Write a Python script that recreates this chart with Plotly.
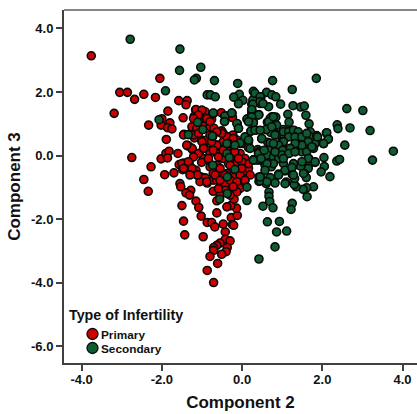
import plotly.graph_objects as go

x_ticks = [-4, -2, 0, 2, 4]
x_tick_labels = ["-4.0", "-2.0", "0.0", "2.0", "4.0"]
y_ticks = [-6, -4, -2, 0, 2, 4]
y_tick_labels = ["-6.0", "-4.0", "-2.0", "0.0", "2.0", "4.0"]
series_names = ["Primary", "Secondary"]

primary_x = [-3.76,-2.05,-3.05,-2.86,-2.45,-2.68,-2.16,-1.58,-1.37,-1.40,-3.19,-1.85,-1.47,-2.33,-2.0,-1.8,-2.02,-1.86,-1.75,-1.89,-1.45,
 -2.75,-2.27,-2.45,-2.34,-2.02,-1.9,-1.82,-1.86,-1.6,-1.93,-1.70,-1.57,-1.45,-1.32,-1.48,-1.26,-1.29,-1.15,-1.12,-1.02,-0.92,-1.05,-0.87,-1.55,-1.53,-1.28,-1.40,-1.31,-1.15,-1.5,-1.08,-1.46,-1.02,-1.43,-0.97,-0.87,-0.76,-0.68,-0.63,-0.47,-0.27,-0.12,-0.24,-0.21,-0.42,-0.42,-0.30,-0.55,-0.63,-0.71,-0.71,-0.37,-0.40,-0.51,-0.80,-0.61,-0.87,-0.71,-0.14,-0.28,-0.20,-0.38,-0.63,-0.72,-0.55,
 -1.16,-1.01,-0.92,-1.19,-1.05,-0.88,-0.76,-0.52,-0.24,-1.07,-1.24,-1.12,-0.96,-0.80,-0.70,-0.51,-1.19,-1.26,-1.01,-0.88,-0.63,-0.37,-0.23,-0.13,-0.47,-1.36,-1.26,-0.95,-0.80,-0.26,0.03,
 -1.34,-1.24,-1.19,-1.07,-0.96,-1.01,-0.67,-0.47,-0.19,-0.02,-0.26,-0.05,-0.18,-0.63,-0.55,-0.26,-0.01,-0.42,-0.72,0.07,-0.63,-0.80,-0.34,-0.96,-0.84,-0.22,-0.47,-0.38,-0.05,0.07,-0.13,-0.55,-0.38,0.07,-0.63,-0.05,-0.13,-0.42,-0.55,-0.30,0.16,-0.72,-0.80,-0.84,-0.55,-0.30,0.16,0.20,
 -1.15,-1.0,-1.09,-1.21,-0.88,-0.80,-1.25,-1.13,-1.46,-1.21,-1.09,-0.88,-1.0,-0.63,-0.76,-0.38,-0.22,-0.51,-1.25,-1.38,-1.09,-1.21,-1.5,-1.34,-1.46,-1.25,-1.11,-0.88,-1.30,-0.84,-0.59,-0.72,-0.47,-0.18,-0.01,-0.09,-0.30,-0.55,-0.67,-0.55,-0.30,-0.42,-0.05,0.07,-0.13,-0.22,-0.59,-0.01,-0.80,-0.63,-0.96]
primary_y = [3.14,2.43,1.99,1.99,1.93,1.77,1.83,1.73,1.73,1.60,1.33,1.40,1.19,0.96,1.16,1.03,0.96,0.88,0.84,0.51,0.67,
 -0.06,-0.35,-0.75,-1.12,-0.10,0.07,0.14,-0.07,0.07,-0.60,-0.54,-0.28,-0.23,-0.22,-0.44,-0.40,-0.56,-0.46,-0.61,-0.67,-0.70,-0.82,-0.86,-0.88,-0.98,-1.09,-1.17,-1.24,-1.43,-1.57,-1.63,-2.06,-1.90,-2.49,-2.55,-2.10,-2.10,-2.24,-1.80,-2.15,-1.95,-1.88,-2.17,-2.19,-2.40,-2.63,-2.68,-2.75,-2.82,-2.89,-2.98,-2.89,-3.02,-3.10,-3.17,-3.39,-3.61,-3.99,-1.65,-1.57,-1.37,-1.61,-1.42,-1.12,-1.03,
 1.44,1.43,1.38,1.24,1.20,1.12,1.14,1.35,1.20,1.07,0.89,0.86,0.93,0.91,0.86,0.78,0.56,0.70,0.49,0.47,0.33,0.59,0.65,0.49,0.44,0.31,0.23,0.28,0.17,0.28,0.38,
 0.31,0.20,0.05,0.07,-0.09,-0.21,0.17,-0.09,0.09,-0.21,-0.40,-0.56,-0.67,-0.54,-0.75,-0.93,-0.88,-0.88,-0.77,-0.51,-0.30,-0.35,-0.25,0.23,0.49,0.54,0.70,0.17,0.07,-0.09,-0.25,-0.51,-0.56,-0.77,-0.77,-1.03,-1.14,-1.09,-1.24,-1.24,-0.40,-0.56,0.07,-0.14,0.07,-0.09,-0.25,-0.61,
 1.45,1.43,1.28,1.17,1.17,1.07,0.91,0.86,0.65,0.65,0.70,0.49,0.44,0.33,0.44,0.59,0.54,0.70,0.23,0.33,0.07,-0.04,-0.25,-0.19,-0.40,-0.40,-0.61,-0.82,-0.61,-0.09,-0.04,0.17,0.17,0.12,-0.19,-0.09,-0.30,-0.40,-0.61,-0.77,-0.77,-0.61,-0.61,-0.77,-0.82,-0.98,-1.04,-0.40,0.65,0.75,0.23]

secondary_x = [-2.79,-1.55,-1.03,-1.56,-1.14,-1.19,-0.69,-0.11,-1.91,-0.87,-0.79,-0.67,-0.07,-0.21,0.02,-0.09,0.28,0.32,
 0.76,1.85,1.25,0.61,0.74,0.84,0.47,0.28,0.45,0.26,0.66,0.96,1.27,1.46,1.55,2.61,3.01,1.14,1.59,1.67,1.17,2.37,2.39,2.69,3.19,2.10,2.15,2.03,2.56,1.86,1.70,0.24,0.42,0.24,0.74,0.84,0.70,0.63,0.82,0.60,0.28,0.13,0.16,0.35,0.22,-0.09,-0.12,-0.43,-0.25,-0.43,-0.71,0.49,0.71,0.86,0.64,1.03,1.17,1.30,1.16,1.0,1.46,1.61,1.30,1.41,1.70,1.82,1.49,1.03,1.30,1.65,0.70,0.39,0.16,0.16,-0.05,-0.34,-0.73,
 3.77,3.25,2.36,2.43,2.04,2.05,1.97,2.19,1.82,1.66,1.68,1.65,1.55,1.60,1.78,1.61,1.52,1.62,1.35,1.30,1.10,1.31,1.25,1.07,1.26,1.46,0.91,0.81,0.62,0.70,0.47,0.42,0.6,0.67,0.67,0.69,0.52,0.77,1.25,1.22,0.63,0.93,0.86,1.11,0.82,0.42,0.12,0.12,0.28,0.41,0.45,0.59,0.78,0.95,0.73,0.57,1.17,0.82,1.49,1.61,1.03,0.99,1.30,0.70,0.86,1.49,1.78,1.86,2.03,1.16,1.45,1.63,
 -1.34,-0.74,-0.38,-0.32,-0.73,-0.18,-0.37,-0.37,-0.56,0.45,0.42,-0.05,0.16,-0.34,0.41,0.30,-0.18,0.2,0.07,
 -2.07,-0.98,-1.11,-0.72,-0.43,-0.26,-0.44,-0.13,-0.09,0.12,0.24,0.37,0.24,0.27,0.22,-0.38,0.16,
 0.32,0.45,0.27,0.24,0.45,0.52,0.41,0.24,0.28,0.16,0.66,0.78,0.60,0.86,0.74,0.82,1.03,1.16,1.28,1.40,1.16,1.32,1.49,1.61,1.65,1.49,1.32,1.20,1.03,0.91,1.01,0.78,0.66,0.49,0.41,0.62,0.78,0.91,0.99,1.16,1.32,1.65,1.49,1.82,1.28,1.07,1.24,1.53,0.78,0.62,0.57,0.45,0.62,0.82,0.91,1.07,1.28,1.88,2.11,2.15,2.03,1.74,0.37,0.28,0.47,0.55,0.82,0.32,0.45,1.03]
secondary_y = [3.66,3.35,2.78,2.68,2.43,2.38,2.36,2.27,2.04,1.91,1.91,1.85,1.93,1.84,1.74,1.63,2.02,1.94,
 2.36,2.43,2.08,1.99,1.91,1.85,1.84,1.75,1.64,1.61,1.54,1.62,1.57,1.53,1.56,1.48,1.42,1.30,1.27,1.00,1.05,0.97,0.85,0.87,0.79,0.71,0.53,0.38,0.33,0.63,0.75,1.45,1.29,1.28,1.22,1.21,1.17,1.05,0.94,0.82,1.05,1.15,1.07,0.80,0.77,0.86,1.0,1.25,1.34,1.09,1.33,0.53,0.73,0.67,0.42,0.82,0.77,0.79,0.61,0.46,0.57,0.44,0.54,0.65,0.59,0.38,0.33,0.28,0.28,0.28,0.23,0.19,0.44,0.25,0.38,0.38,0.61,
 0.14,-0.14,-0.17,-0.12,-0.06,-0.34,-0.51,-0.66,-0.21,-0.09,-0.25,-0.40,-0.56,-0.69,-0.98,-1.01,-1.06,-1.29,-0.98,-0.91,-0.83,-0.72,-0.59,-0.48,-0.35,-0.33,-0.58,-0.83,-0.82,-0.69,-0.66,-0.81,-0.88,-1.15,-1.28,-1.44,-1.59,-1.64,-1.50,-1.69,-2.08,-2.07,-2.40,-2.37,-2.87,-3.25,-0.99,-1.41,-0.14,0.09,-0.14,-0.04,-0.22,-0.09,-0.35,-0.30,0.07,0.05,0.12,0.12,-0.25,0.23,0.26,0.40,0.65,0.33,0.23,0.61,0.38,0.61,0.57,0.44,
 0.66,0.62,0.07,-0.06,-0.30,-0.43,-0.67,-1.19,-1.37,-0.79,-0.67,0.40,0.49,0.38,0.12,-0.12,0.33,0.23,0.59,
 1.13,0.82,1.05,1.34,1.25,1.34,1.07,1.01,0.86,1.15,1.33,1.28,1.62,1.75,0.77,0.38,0.49,
 1.96,1.85,1.62,1.45,1.70,1.64,1.28,1.22,1.04,1.07,1.07,1.22,0.82,0.96,0.91,0.65,0.75,0.75,0.80,0.75,0.59,0.59,0.59,0.70,0.44,0.33,0.38,0.23,0.44,0.33,0.17,0.38,0.17,0.54,0.07,0.02,-0.04,-0.09,0.02,0.07,0.12,-0.09,-0.19,-0.19,-0.25,-0.46,-0.37,-0.56,-0.25,-0.25,-0.46,-0.67,-0.82,-0.86,-0.61,-0.88,-0.61,0.59,0.72,0.52,0.38,0.28,-0.14,-0.14,-0.09,0.17,0.12,0.80,0.80,-0.09]

RED = "#CC0000"
GREEN = "#0E5C32"
TEXT = "#111111"
AXIS = "#404040"
FONT = "Liberation Sans"

W, H = 417, 414
L, R, T, B = 64, 0, 10, 51
PW, PH = W - L - R, H - T - B
def px(v): return (v - L) / PW
def py(v): return (H - B - v) / PH

fig = go.Figure()
for name, xs, ys, color in [(series_names[0], primary_x, primary_y, RED),
                            (series_names[1], secondary_x, secondary_y, GREEN)]:
    fig.add_trace(go.Scatter(x=xs, y=ys, mode="markers", name=name, showlegend=False, cliponaxis=False,
                             marker=dict(size=8, color=color, line=dict(color="#0A0A0A", width=1.6))))

shapes = [dict(type="line", xref="paper", yref="paper", x0=0, x1=1, y0=1, y1=1,
               line=dict(color="#868686", width=2))]
annotations = [dict(text="<b>Type of Infertility</b>", xref="paper", yref="paper", x=px(66.5), y=py(315),
                    xanchor="left", yanchor="middle", showarrow=False, font=dict(family=FONT, size=14.3, color=TEXT))]
for name, color, cy in [(series_names[0], RED, 334), (series_names[1], GREEN, 348)]:
    shapes.append(dict(type="circle", xref="paper", yref="paper", x0=px(87), x1=px(98), y0=py(cy + 5.5), y1=py(cy - 5.5),
                       fillcolor=color, line=dict(color="#0A0A0A", width=1.3)))
    annotations.append(dict(text=f"<b>{name}</b>", xref="paper", yref="paper", x=px(99), y=py(cy + 1),
                            xanchor="left", yanchor="middle", showarrow=False,
                            font=dict(family=FONT, size=11.8, color=TEXT)))

axis_common = dict(showgrid=False, zeroline=False, showline=True, linecolor=AXIS, linewidth=2,
                   ticks="outside", ticklen=6, tickwidth=1.5, tickcolor=AXIS,
                   tickfont=dict(family=FONT, size=13, color=TEXT))
fig.update_layout(
    width=W, height=H, autosize=False, margin=dict(l=L, r=R, t=T, b=B),
    paper_bgcolor="white", plot_bgcolor="white", showlegend=False,
    shapes=shapes, annotations=annotations,
    xaxis=dict(range=[-4.44, 4.36], tickvals=x_ticks, ticktext=[f"<b>{t}</b>" for t in x_tick_labels],
               ticklabelstandoff=-3,
               title=dict(text="<b>Component 2</b>", font=dict(family=FONT, size=17, color=TEXT), standoff=11),
               **axis_common),
    yaxis=dict(range=[-6.52, 4.58], tickvals=y_ticks, ticktext=[f"<b>{t}</b>" for t in y_tick_labels],
               title=dict(text="<b>Component 3</b>", font=dict(family=FONT, size=17, color=TEXT), standoff=6),
               **axis_common),
)
assert len(primary_x) == len(primary_y) and len(secondary_x) == len(secondary_y)
fig.write_html("out.html", config=dict(displayModeBar=False),
               post_script="document.body.style.margin='0';document.documentElement.style.overflow='hidden';")
